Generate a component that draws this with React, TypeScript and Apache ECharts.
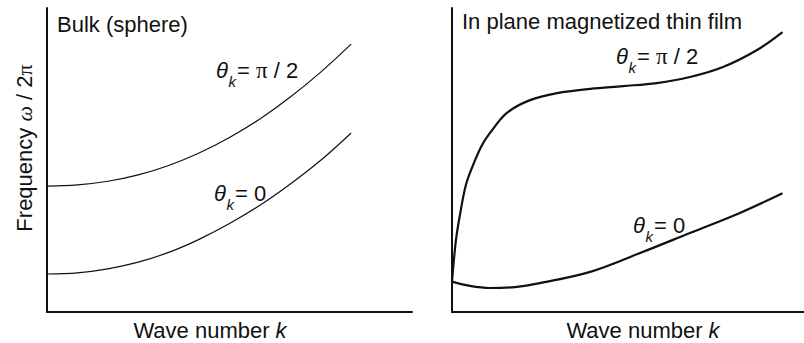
import React, { useEffect, useRef } from "react";
import * as echarts from "echarts";

// Wave number (arbitrary units) and frequency ω/2π (arbitrary units)
const K_BULK = [0, 0.1, 0.2, 0.3, 0.4, 0.5, 0.6, 0.7, 0.8, 0.9, 1.0];
const BULK_HALF_PI = [4.14, 4.18, 4.3, 4.51, 4.82, 5.23, 5.74, 6.35, 7.07, 7.89, 8.81];
const BULK_ZERO = [1.25, 1.29, 1.42, 1.64, 1.96, 2.39, 2.91, 3.51, 4.21, 4.99, 5.89];

const K_FILM_HALF_PI = [0, 0.012, 0.024, 0.042, 0.064, 0.091, 0.115, 0.166, 0.236, 0.318, 0.418, 0.517, 0.62, 0.72, 0.82, 0.923, 1.0];
const FILM_HALF_PI = [1.0, 2.37, 3.19, 4.18, 4.84, 5.49, 5.89, 6.55, 6.97, 7.2, 7.34, 7.43, 7.53, 7.73, 8.06, 8.62, 9.21];
const K_FILM_ZERO = [0, 0.054, 0.115, 0.191, 0.266, 0.418, 0.569, 0.72, 0.871, 1.0];
const FILM_ZERO = [1.0, 0.86, 0.79, 0.82, 0.95, 1.32, 1.94, 2.6, 3.26, 3.91];

const PANEL_TITLES = ["Bulk (sphere)", "In plane magnetized thin film"];
const X_TITLE = "Wave number ";
const Y_TITLE = "Frequency {w|ω} / 2{p|π}";

const FONT = "'Liberation Sans', Arial, Helvetica, sans-serif";
const SERIF = "'Liberation Serif', 'Times New Roman', serif";
const INK = "#111";
const FS = 22;

const pairs = (xs: number[], ys: number[]) => xs.map((x, i) => [x, ys[i]]);

// θ_k = ... annotation: italic theta, subscript k, then the right-hand side
function thetaLabel(x: number, baseline: number, rhs: string) {
  return {
    type: "group",
    children: [
      {
        type: "text",
        x,
        y: baseline - 7.6,
        style: { text: "θ", font: `italic ${FS}px ${FONT}`, fill: INK, align: "left", verticalAlign: "middle" },
      },
      {
        type: "text",
        x: x + 12.5,
        y: baseline + 3,
        style: { text: "k", font: `italic 15px ${FONT}`, fill: INK, align: "left", verticalAlign: "middle" },
      },
      {
        type: "text",
        x: x + 21,
        y: baseline - 7.6,
        style: {
          text: rhs,
          fontFamily: FONT,
          fontSize: FS,
          fill: INK,
          align: "left",
          verticalAlign: "middle",
          rich: {
            p: { fontFamily: SERIF, fontSize: 23, fill: INK },
          },
        },
      },
    ],
  };
}

function plainText(x: number, y: number, text: string) {
  return {
    type: "text",
    x,
    y,
    style: { text, fontFamily: FONT, fontSize: FS, fill: INK, align: "left", verticalAlign: "middle" },
  };
}

function xTitle(x: number) {
  return {
    type: "text",
    x,
    y: 330,
    style: {
      text: X_TITLE + "{k|k}",
      fontFamily: FONT,
      fontSize: FS,
      fill: INK,
      align: "center",
      verticalAlign: "middle",
      rich: { k: { fontFamily: FONT, fontStyle: "italic", fontSize: FS, fill: INK } },
    },
  };
}

export default function App() {
  const ref = useRef<HTMLDivElement>(null);

  useEffect(() => {
    if (!ref.current) return;
    const chart = echarts.init(ref.current, null, { renderer: "svg" });

    const axisLine = { show: true, lineStyle: { color: INK, width: 2 } };
    const bare = {
      type: "value",
      axisLine,
      axisTick: { show: false },
      axisLabel: { show: false },
      splitLine: { show: false },
    };

    const curve = (xAxisIndex: number, data: number[][], width: number) => ({
      type: "line",
      xAxisIndex,
      yAxisIndex: xAxisIndex,
      data,
      showSymbol: false,
      smooth: 0.35,
      lineStyle: { color: INK, width },
      silent: true,
    });

    chart.setOption({
      animation: false,
      backgroundColor: "#fff",
      grid: [
        { left: 47, top: 8, width: 365, height: 304 },
        { left: 452, top: 8, width: 352, height: 304 },
      ],
      xAxis: [
        { ...bare, gridIndex: 0, min: 0, max: 1.2 },
        { ...bare, gridIndex: 1, min: 0, max: 1.065 },
      ],
      yAxis: [
        { ...bare, gridIndex: 0, min: 0, max: 10 },
        { ...bare, gridIndex: 1, min: 0, max: 10 },
      ],
      series: [
        curve(0, pairs(K_BULK, BULK_HALF_PI), 1.2),
        curve(0, pairs(K_BULK, BULK_ZERO), 1.2),
        curve(1, pairs(K_FILM_HALF_PI, FILM_HALF_PI), 2.2),
        curve(1, pairs(K_FILM_ZERO, FILM_ZERO), 2.2),
      ],
      graphic: [
        plainText(57, 24, PANEL_TITLES[0]),
        plainText(462, 21, PANEL_TITLES[1]),
        {
          type: "text",
          x: 24,
          y: 148,
          rotation: Math.PI / 2,
          style: {
            text: Y_TITLE,
            fontFamily: FONT,
            fontSize: FS,
            fill: INK,
            align: "center",
            verticalAlign: "middle",
            rich: {
              w: { fontFamily: SERIF, fontStyle: "italic", fontSize: FS, fill: INK },
              p: { fontFamily: SERIF, fontSize: FS, fill: INK },
            },
          },
        },
        xTitle(210),
        xTitle(643),
        thetaLabel(216, 78, "= {p|π} / 2"),
        thetaLabel(214, 201, "= 0"),
        thetaLabel(616, 64, "= {p|π} / 2"),
        thetaLabel(633, 233, "= 0"),
      ],
    });

    return () => chart.dispose();
  }, []);

  return (
    <div
      ref={ref}
      style={{ position: "fixed", left: 0, top: 0, width: 804, height: 343, background: "#fff" }}
    />
  );
}
